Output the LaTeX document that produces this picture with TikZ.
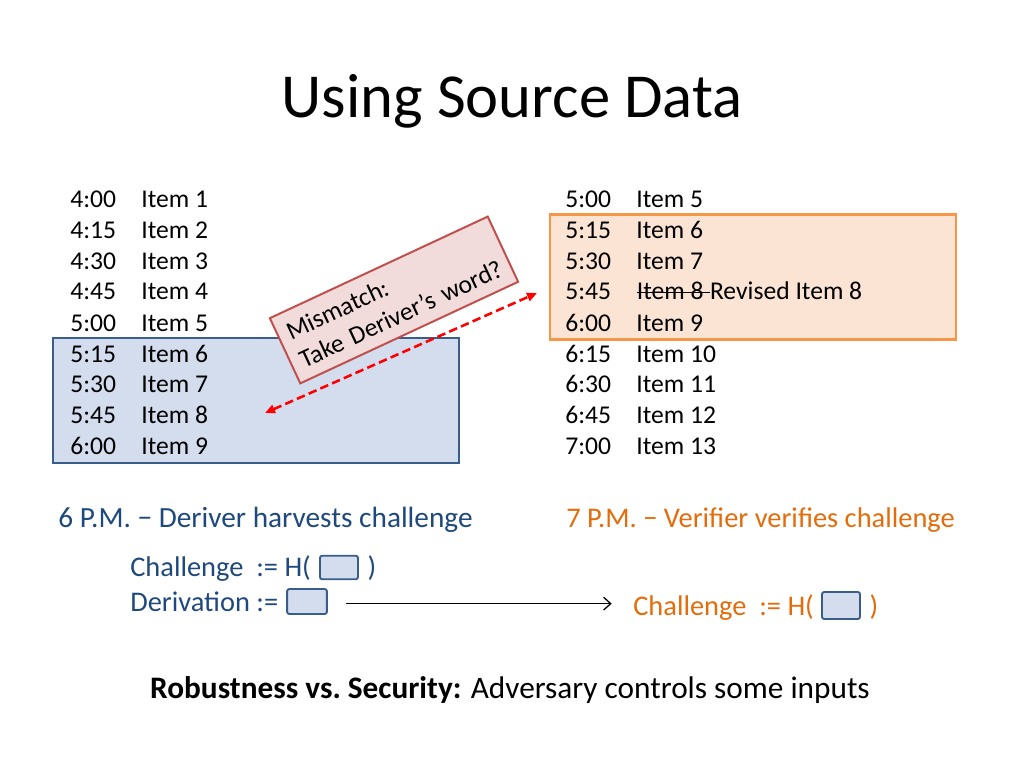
\documentclass[tikz,border=0pt]{standalone}
\usepackage{fontspec}
\setmainfont{Carlito}
\usetikzlibrary{positioning,arrows.meta}

\definecolor{winblue}{HTML}{D3DDEE}
\definecolor{winblueline}{HTML}{385D8A}
\definecolor{winorange}{HTML}{FCE4D4}
\definecolor{winorangeline}{HTML}{F79646}
\definecolor{notepink}{HTML}{F2DCDB}
\definecolor{noteline}{HTML}{C0504D}
\definecolor{derivertext}{HTML}{1F497D}
\definecolor{verifiertext}{HTML}{E46C0A}

\newcommand{\timeslot}[2]{\makebox[50pt][l]{#1}#2}

\begin{document}
\begin{tikzpicture}[
		x=0.703125pt, y=-0.703125pt,
		row/.style={anchor=base west, inner sep=0pt, font=\fontsize{18}{21.6}\selectfont},
		label/.style={anchor=base west, inner sep=0pt, font=\fontsize{20}{24}\selectfont},
		window/.style={rectangle, draw, line width=1.4pt, minimum width=285.5pt, minimum height=87.5pt},
		slotbox/.style={rectangle, draw=winblueline, fill=winblue, line width=1.3pt, rounded corners=1.5pt, minimum width=26.7pt, minimum height=16.5pt, inner sep=0pt}
	]
		\useasboundingbox (0,0) rectangle (1024,768);
		
		% Title
		\node[anchor=base, inner sep=0pt, font=\fontsize{44}{52.8}\selectfont] (title) at (512,118) {Using Source Data};
		
		% Windows behind the lists
		\node[window, draw=winblueline, fill=winblue] (dwin) at (256,400.5) {};
		\node[window, draw=winorangeline, fill=winorange, line width=1.8pt] (vwin) at (753,277) {};
		
		% Deriver list (left)
		\node[row] (d1) at (70,208) {\timeslot{4:00}{Item 1}};
		\node[row] (d2) at (70,239) {\timeslot{4:15}{Item 2}};
		\node[row] (d3) at (70,270) {\timeslot{4:30}{Item 3}};
		\node[row] (d4) at (70,300) {\timeslot{4:45}{Item 4}};
		\node[row] (d5) at (70,331) {\timeslot{5:00}{Item 5}};
		\node[row] (d6) at (70,362) {\timeslot{5:15}{Item 6}};
		\node[row] (d7) at (70,392) {\timeslot{5:30}{Item 7}};
		\node[row] (d8) at (70,423) {\timeslot{5:45}{Item 8}};
		\node[row] (d9) at (70,454) {\timeslot{6:00}{Item 9}};
		
		% Verifier list (right)
		\node[row] (v1) at (565,208) {\timeslot{5:00}{Item 5}};
		\node[row] (v2) at (565,239) {\timeslot{5:15}{Item 6}};
		\node[row] (v3) at (565,270) {\timeslot{5:30}{Item 7}};
		\node[row] (v4) at (565,300) {\timeslot{5:45}{}};
		\node[row] (v4old) at (v4.base east) {Item 8\ \null};
		\node[row] (v4new) at (v4old.base east) {Revised Item 8};
		\draw[line width=0.8pt] ([yshift=5pt]v4old.base west) -- ([yshift=5pt]v4old.base east);
		\node[row] (v5) at (565,331) {\timeslot{6:00}{Item 9}};
		\node[row] (v6) at (565,362) {\timeslot{6:15}{Item 10}};
		\node[row] (v7) at (565,392) {\timeslot{6:30}{Item 11}};
		\node[row] (v8) at (565,423) {\timeslot{6:45}{Item 12}};
		\node[row] (v9) at (565,454) {\timeslot{7:00}{Item 13}};
		
		% Mismatch note
		\node[rectangle, draw=noteline, fill=notepink, line width=1.4pt, rotate=25, minimum width=169pt, minimum height=50.6pt, text width=155pt, align=left, font=\fontsize{18}{21.6}\selectfont] (note) at (394,300) {Mismatch:\\Take Deriver’s word?};
		\coordinate (mmA) at (265,413);
		\coordinate (mmB) at (537,293);
		\draw[{Triangle[length=7pt,width=6pt]}-{Triangle[length=7pt,width=6pt]}, red, line width=1.8pt, dash pattern=on 6pt off 3pt] (mmA) -- (mmB);
		
		% Captions
		\node[label, text=derivertext, font=\fontsize{20.6}{24.7}\selectfont] (dcap) at (58,527) {6 P.M. − Deriver harvests challenge};
		\node[label, text=verifiertext] (vcap) at (566,527) {7 P.M. − Verifier verifies challenge};
		
		% Deriver side
		\node[label, text=derivertext] (dch) at (130,576) {Challenge\ \ := H(};
		\node[slotbox] (dchsq) at (339,567.5) {};
		\node[label, text=derivertext, xshift=6pt] (dchp) at (dchsq.east |- dch.base) {)};
		\node[label, text=derivertext] (dder) at (130,611) {Derivation :=};
		\node[slotbox, minimum width=28pt, minimum height=17.5pt] (ddersq) at (307,601.5) {};
		
		% Verifier side
		\node[label, text=verifiertext] (vch) at (633,615) {Challenge\ \ := H(};
		\node[slotbox, minimum height=19pt] (vchsq) at (841,605.5) {};
		\node[label, text=verifiertext, xshift=6pt] (vchp) at (vchsq.east |- vch.base) {)};
		\draw[-{Straight Barb[length=5pt,width=9pt]}, line width=0.9pt, shorten <=13pt, shorten >=15pt] ([yshift=-1.5pt]ddersq.east) -- ([yshift=-1.5pt]ddersq.east -| vch.west);
		
		% Bottom line
		\node[anchor=base, inner sep=0pt, font=\fontsize{22}{26.4}\selectfont] (moral) at (510,698) {\textbf{Robustness vs.\ Security:} Adversary controls some inputs};
	\end{tikzpicture}
\end{document}
